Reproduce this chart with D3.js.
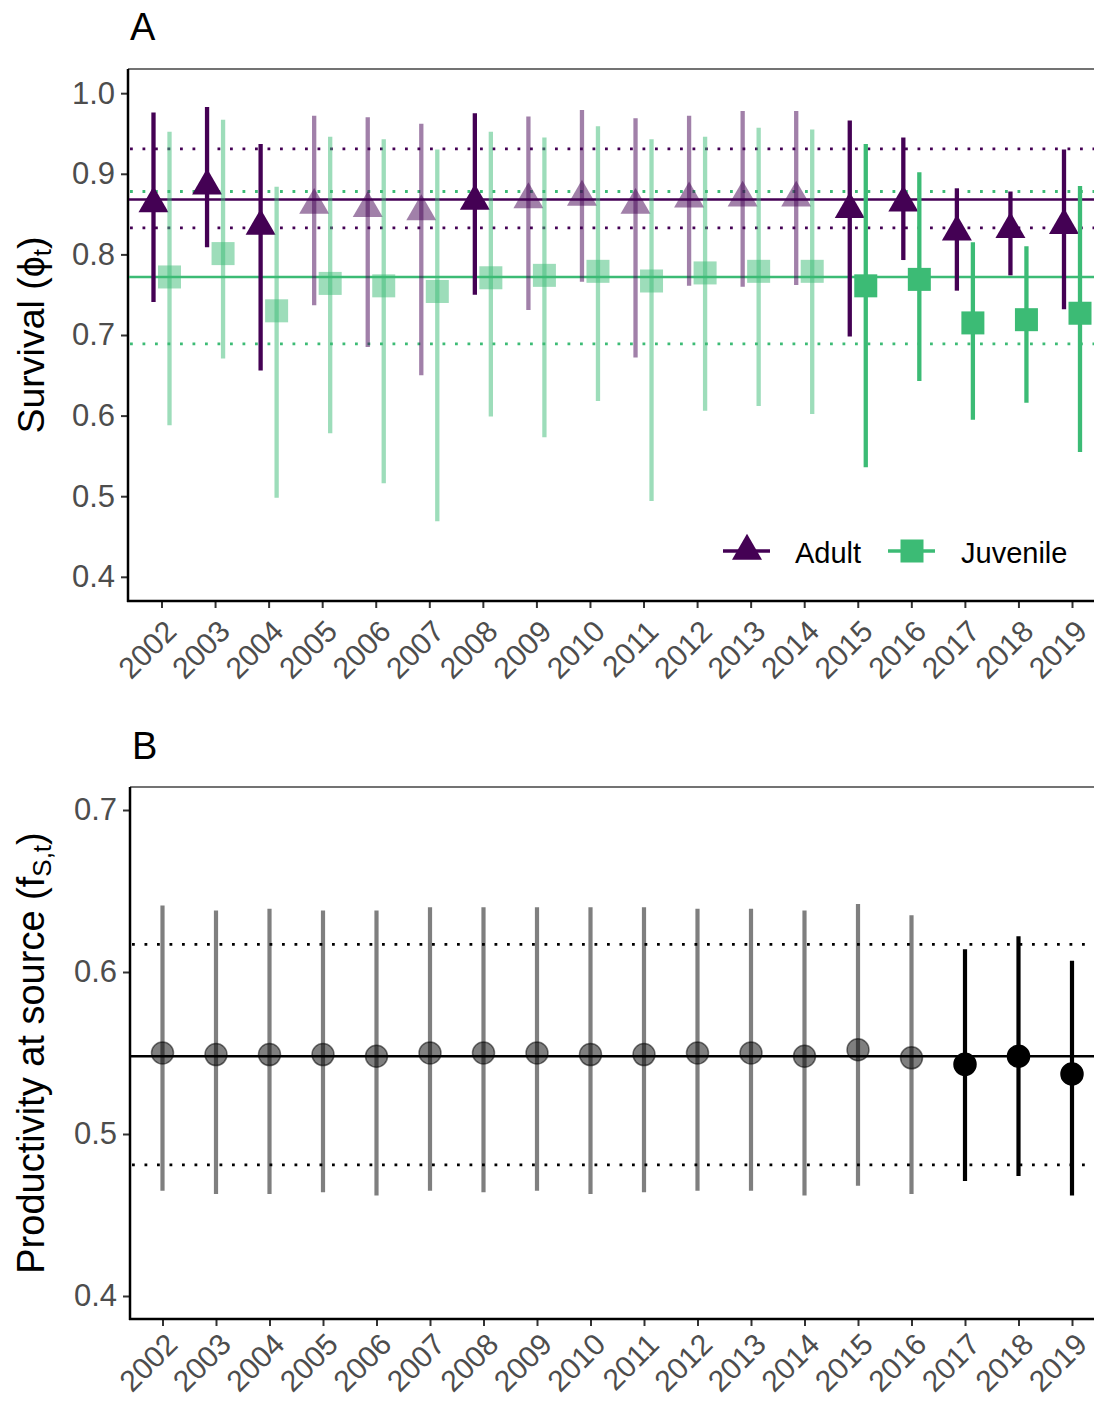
<!DOCTYPE html>
<html>
<head>
<meta charset="utf-8">
<script src="https://cdn.jsdelivr.net/npm/d3@7"></script>
<style>
  html, body { margin: 0; padding: 0; background: #fff; }
  svg { display: block; font-family: "Liberation Sans", Arial, sans-serif; }
</style>
</head>
<body>
<svg id="chart" width="1094" height="1401"></svg>
<script>
// ---------------- data ----------------
const years = ["2002","2003","2004","2005","2006","2007","2008","2009","2010",
               "2011","2012","2013","2014","2015","2016","2017","2018","2019"];

// Panel A: adult survival
const adultMean = [0.863,0.885,0.835,0.861,0.857,0.853,0.866,0.868,0.871,0.861,0.869,0.870,0.870,0.856,0.864,0.828,0.831,0.836];
const adultLow  = [0.741,0.809,0.656,0.737,0.685,0.650,0.750,0.731,0.766,0.672,0.761,0.760,0.762,0.698,0.793,0.755,0.774,0.732];
const adultHigh = [0.976,0.983,0.937,0.972,0.970,0.962,0.975,0.971,0.979,0.969,0.972,0.978,0.978,0.966,0.945,0.882,0.878,0.930];
const adultSolid = [1,1,1,0,0,0,1,0,0,0,0,0,0,1,1,1,1,1];

// Panel A: juvenile survival
const juvMean = [0.772,0.801,0.730,0.764,0.761,0.754,0.771,0.774,0.779,0.767,0.777,0.779,0.779,0.761,0.769,0.715,0.719,0.727];
const juvLow  = [0.588,0.671,0.498,0.578,0.516,0.469,0.599,0.573,0.618,0.494,0.606,0.612,0.602,0.536,0.643,0.595,0.616,0.555];
const juvHigh = [0.952,0.967,0.884,0.946,0.943,0.930,0.952,0.945,0.959,0.943,0.946,0.957,0.955,0.937,0.902,0.815,0.810,0.885];
const juvSolid = [0,0,0,0,0,0,0,0,0,0,0,0,0,1,1,1,1,1];

// Panel A reference lines: [mean, lower, upper]
const adultRef = [0.868, 0.833, 0.931];
const juvRef   = [0.772, 0.689, 0.878];

// Panel B: productivity at source
const prodMean = [0.550,0.549,0.549,0.549,0.548,0.550,0.550,0.550,0.549,0.549,0.550,0.550,0.548,0.552,0.547,0.543,0.548,0.537];
const prodLow  = [0.465,0.463,0.463,0.464,0.462,0.465,0.464,0.465,0.463,0.464,0.465,0.465,0.462,0.468,0.463,0.471,0.474,0.462];
const prodHigh = [0.641,0.638,0.639,0.638,0.638,0.640,0.640,0.640,0.640,0.640,0.639,0.639,0.638,0.642,0.635,0.614,0.622,0.607];
const prodSolid = [0,0,0,0,0,0,0,0,0,0,0,0,0,0,0,1,1,1];
const prodRef = [0.548, 0.481, 0.617];

const yTicksA = [0.4,0.5,0.6,0.7,0.8,0.9,1.0];
const yTicksB = [0.4,0.5,0.6,0.7];
const legendLabels = ["Adult","Juvenile"];

// ---------------- style ----------------
const PURPLE = "#440154";
const GREEN = "#3CBB75";
const FONT = "\"Liberation Sans\", Arial, sans-serif";

const svg = d3.select("#chart");
svg.append("rect").attr("width",1094).attr("height",1401).attr("fill","#fff");

function panel(cfg) {
  const g = svg.append("g");
  const x = d3.scalePoint().domain(years).range([cfg.x0, cfg.x1]);
  const y = d3.scaleLinear().domain(cfg.ydom).range([cfg.bottom, cfg.top]);

  // top border
  g.append("line").attr("x1", cfg.left).attr("x2", 1100)
    .attr("y1", cfg.top).attr("y2", cfg.top)
    .attr("stroke", "#444").attr("stroke-width", 1.5);

  // y axis
  const ya = g.append("g").attr("transform", `translate(${cfg.left},0)`)
    .call(d3.axisLeft(y).tickValues(cfg.yticks).tickFormat(d3.format(".1f")).tickSizeInner(7).tickSizeOuter(0).tickPadding(6));
  ya.select(".domain").remove();
  ya.selectAll(".tick line").attr("stroke", "#333").attr("stroke-width", 2);
  ya.selectAll(".tick text").attr("fill", "#4D4D4D").style("font-size", "31px").style("font-family", FONT);
  g.append("line").attr("x1", cfg.left).attr("x2", cfg.left)
    .attr("y1", cfg.top).attr("y2", cfg.bottom + 1)
    .attr("stroke", "#000").attr("stroke-width", 2.5);

  // x axis
  const xa = g.append("g").attr("transform", `translate(0,${cfg.bottom})`)
    .call(d3.axisBottom(x).tickSizeInner(7).tickSizeOuter(0).tickPadding(0));
  xa.select(".domain").remove();
  xa.selectAll(".tick line").attr("stroke", "#333").attr("stroke-width", 2);
  xa.selectAll(".tick text")
    .attr("x", 0).attr("y", 0).attr("dy", "0.72em")
    .attr("transform", `translate(1,${cfg.labOff}) rotate(-45)`)
    .style("text-anchor", "end")
    .attr("fill", "#4D4D4D").style("font-size", "30px").style("font-family", FONT);
  g.append("line").attr("x1", cfg.left - 1).attr("x2", 1100)
    .attr("y1", cfg.bottom).attr("y2", cfg.bottom)
    .attr("stroke", "#000").attr("stroke-width", 2.5);

  // panel tag
  g.append("text").attr("x", cfg.left + 2).attr("y", cfg.tagY)
    .style("font-size", "38px").style("font-family", FONT).attr("fill", "#000").text(cfg.tag);

  // y title
  const t = g.append("text")
    .attr("transform", `translate(44,${(cfg.top + cfg.bottom) / 2}) rotate(-90)`)
    .style("text-anchor", "middle").style("font-size", cfg.titleSize).style("font-family", FONT).attr("fill", "#000");
  t.append("tspan").text(cfg.title);
  t.append("tspan").attr("font-size", "26px").attr("dy", "7").text(cfg.sub);
  t.append("tspan").attr("dy", "-7").text(")");

  return {g, x, y};
}

function refLines(g, y, ref, color, x1, x2) {
  g.append("line").attr("x1", x1).attr("x2", x2).attr("y1", y(ref[0])).attr("y2", y(ref[0]))
    .attr("stroke", color).attr("stroke-width", 2.5);
  [ref[1], ref[2]].forEach(v => {
    g.append("line").attr("x1", x1 + 1).attr("x2", x2).attr("y1", y(v)).attr("y2", y(v))
      .attr("stroke", color).attr("stroke-width", 2.8).attr("stroke-dasharray", "2.8 9.7");
  });
}

// ---------------- Panel A ----------------
const A = panel({left: 128, x0: 161.5, x1: 1072, top: 69, bottom: 601, ydom: [0.37, 1.03], labOff: 17,
                 yticks: yTicksA, tag: "A", tagY: 40, title: "Survival (\u03D5", sub: "t", titleSize: "37.5px"});
refLines(A.g, A.y, adultRef, PURPLE, 129, 1100);
refLines(A.g, A.y, juvRef, GREEN, 129, 1100);

const DODGE = 8;
const triPath = (() => {
  const xc = 15, r = 17.3;
  return `M0,${-r}L${xc},${r/2}L${-xc},${r/2}Z`;
})();

// adult
years.forEach((yr, i) => {
  const cx = A.x(yr) - DODGE;
  const op = adultSolid[i] ? 1 : 0.5;
  A.g.append("line").attr("x1", cx).attr("x2", cx)
    .attr("y1", A.y(adultLow[i])).attr("y2", A.y(adultHigh[i]))
    .attr("stroke", PURPLE).attr("stroke-width", 4.3).attr("stroke-opacity", op);
  A.g.append("path").attr("d", triPath)
    .attr("transform", `translate(${cx},${A.y(adultMean[i])})`)
    .attr("fill", PURPLE).attr("fill-opacity", op);
});
// juvenile
years.forEach((yr, i) => {
  const cx = A.x(yr) + DODGE;
  const op = juvSolid[i] ? 1 : 0.5;
  A.g.append("line").attr("x1", cx).attr("x2", cx)
    .attr("y1", A.y(juvLow[i])).attr("y2", A.y(juvHigh[i]))
    .attr("stroke", GREEN).attr("stroke-width", 4.3).attr("stroke-opacity", op);
  A.g.append("rect").attr("x", cx - 11.5).attr("y", A.y(juvMean[i]) - 11.5)
    .attr("width", 23).attr("height", 23)
    .attr("fill", GREEN).attr("fill-opacity", op);
});

// legend
const leg = A.g.append("g");
const legItems = [
  {label: legendLabels[0], color: PURPLE, kx: 747, tx: 795, shape: "tri"},
  {label: legendLabels[1], color: GREEN, kx: 912, tx: 961, shape: "sq"}
];
legItems.forEach(it => {
  leg.append("line").attr("x1", it.kx - 24).attr("x2", it.kx + 23).attr("y1", 551).attr("y2", 551)
    .attr("stroke", it.color).attr("stroke-width", 3.5);
  if (it.shape === "tri") {
    leg.append("path").attr("d", triPath).attr("transform", `translate(${it.kx},551)`).attr("fill", it.color);
  } else {
    leg.append("rect").attr("x", it.kx - 11.5).attr("y", 551 - 11.5).attr("width", 23).attr("height", 23).attr("fill", it.color);
  }
  leg.append("text").attr("x", it.tx).attr("y", 563).style("font-size", "29px")
    .style("font-family", FONT).attr("fill", "#000").text(it.label);
});

// ---------------- Panel B ----------------
const B = panel({left: 130, x0: 162.5, x1: 1072, top: 787, bottom: 1319, ydom: [0.3858, 0.7142], labOff: 12,
                 yticks: yTicksB, tag: "B", tagY: 759, title: "Productivity at source (f", sub: "S,t", titleSize: "38px"});
refLines(B.g, B.y, prodRef, "#000", 131, 1100);

years.forEach((yr, i) => {
  const cx = B.x(yr);
  const op = prodSolid[i] ? 1 : 0.5;
  B.g.append("line").attr("x1", cx).attr("x2", cx)
    .attr("y1", B.y(prodLow[i])).attr("y2", B.y(prodHigh[i]))
    .attr("stroke", "#000").attr("stroke-width", 4.2).attr("stroke-opacity", op);
  B.g.append("circle").attr("cx", cx).attr("cy", B.y(prodMean[i])).attr("r", 11)
    .attr("fill", "#000").attr("fill-opacity", op)
    .attr("stroke", "#000").attr("stroke-opacity", op).attr("stroke-width", 1.5);
});
</script>
</body>
</html>
